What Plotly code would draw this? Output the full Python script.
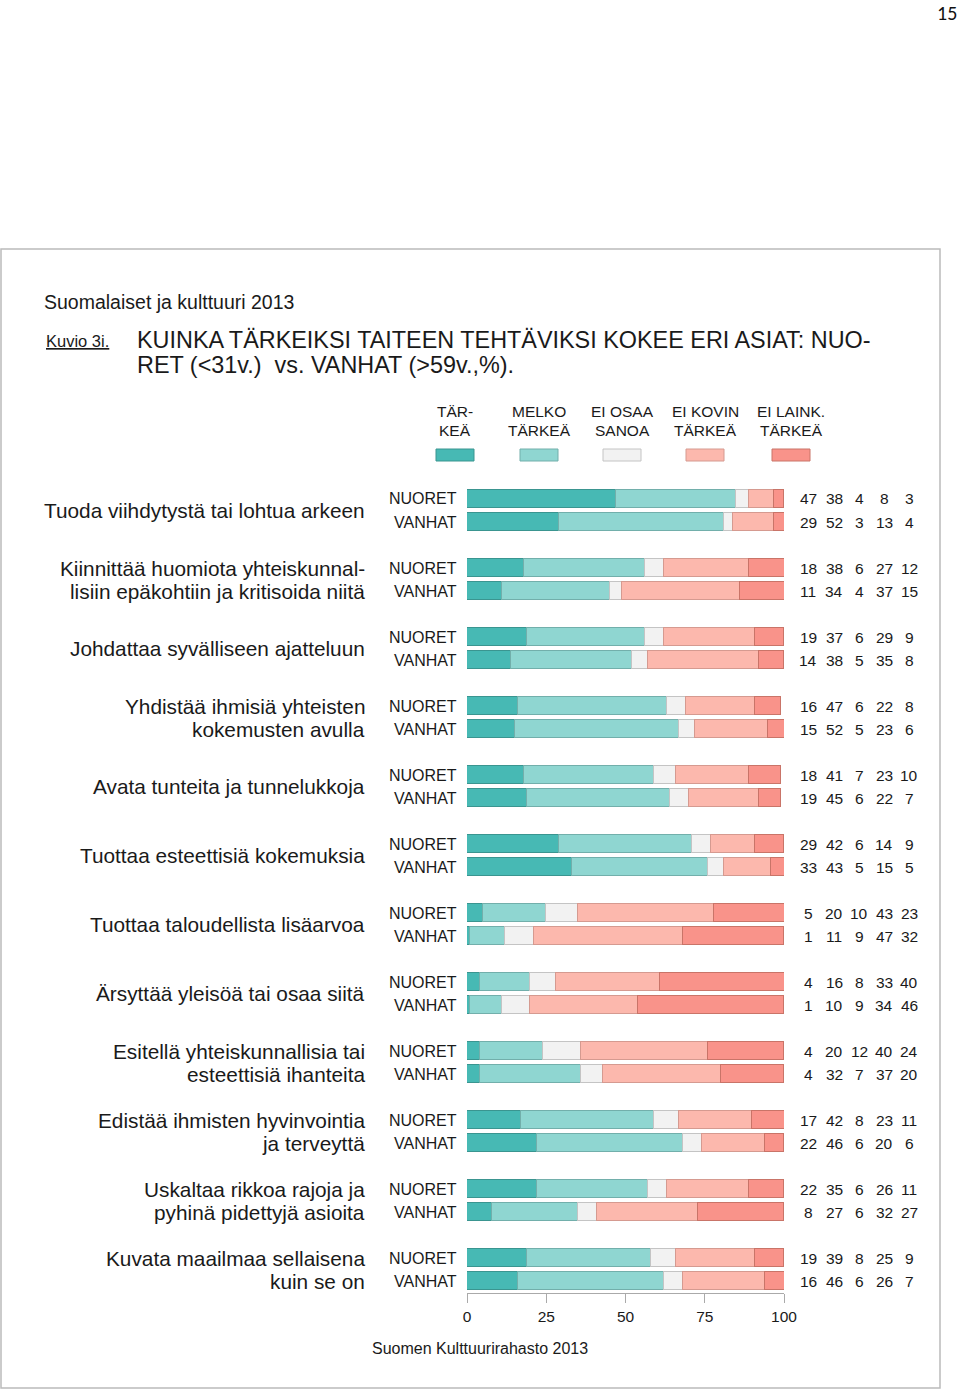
import plotly.graph_objects as go

W, H = 960, 1389

categories = [
    "Tuoda viihdytystä tai lohtua arkeen",
    "Kiinnittää huomiota yhteiskunnal-<br>lisiin epäkohtiin ja kritisoida niitä",
    "Johdattaa syvälliseen ajatteluun",
    "Yhdistää ihmisiä yhteisten<br>kokemusten avulla",
    "Avata tunteita ja tunnelukkoja",
    "Tuottaa esteettisiä kokemuksia",
    "Tuottaa taloudellista lisäarvoa",
    "Ärsyttää yleisöä tai osaa siitä",
    "Esitellä yhteiskunnallisia tai<br>esteettisiä ihanteita",
    "Edistää ihmisten hyvinvointia<br>ja terveyttä",
    "Uskaltaa rikkoa rajoja ja<br>pyhinä pidettyjä asioita",
    "Kuvata maailmaa sellaisena<br>kuin se on",
]
groups = ["NUORET", "VANHAT"]
series = ["TÄR-<br>KEÄ", "MELKO<br>TÄRKEÄ", "EI OSAA<br>SANOA", "EI KOVIN<br>TÄRKEÄ", "EI LAINK.<br>TÄRKEÄ"]

nuoret = [
    [47, 38, 4, 8, 3],
    [18, 38, 6, 27, 12],
    [19, 37, 6, 29, 9],
    [16, 47, 6, 22, 8],
    [18, 41, 7, 23, 10],
    [29, 42, 6, 14, 9],
    [5, 20, 10, 43, 23],
    [4, 16, 8, 33, 40],
    [4, 20, 12, 40, 24],
    [17, 42, 8, 23, 11],
    [22, 35, 6, 26, 11],
    [19, 39, 8, 25, 9],
]
vanhat = [
    [29, 52, 3, 13, 4],
    [11, 34, 4, 37, 15],
    [14, 38, 5, 35, 8],
    [15, 52, 5, 23, 6],
    [19, 45, 6, 22, 7],
    [33, 43, 5, 15, 5],
    [1, 11, 9, 47, 32],
    [1, 10, 9, 34, 46],
    [4, 32, 7, 37, 20],
    [22, 46, 6, 20, 6],
    [8, 27, 6, 32, 27],
    [16, 46, 6, 26, 7],
]
x_ticks = [0, 25, 50, 75, 100]

colors = ["#47B9B4", "#8FD6D1", "#F2F2F2", "#FCB8AD", "#F9938A"]
outlines = ["#3A9590", "#72AFAB", "#C4C4C4", "#D59A90", "#C97468"]

FONT = "Liberation Sans, Arial, sans-serif"

def py(p):
    return 1 - p / H

def px(p):
    return p / W

# y positions: group i, offset -1/6 (NUORET), +1/6 (VANHAT)
offsets = [-1 / 6, 1 / 6]
yvals = []
for i in range(len(categories)):
    for o in offsets:
        yvals.append(i + o)

fig = go.Figure()
for k, name in enumerate(series):
    xs = []
    for i in range(len(categories)):
        xs.append(nuoret[i][k])
        xs.append(vanhat[i][k])
    fig.add_trace(go.Bar(
        x=xs, y=yvals, orientation="h", width=0.265,
        marker=dict(color=colors[k], line=dict(color=outlines[k], width=1)),
        name=name.replace("<br>", " "), showlegend=False, hoverinfo="x",
    ))

# pixel mapping: pixel = 510.5 + 69*v
PX0, PXG = 510.5, 69.0
y_top_px, y_bot_px = 476, 1293
v_top = (y_top_px - PX0) / PXG
v_bot = (y_bot_px - PX0) / PXG

fig.update_layout(
    width=W, height=H, autosize=False, margin=dict(l=0, r=0, t=0, b=0, pad=0),
    paper_bgcolor="white", plot_bgcolor="white",
    barmode="stack", bargap=0,
    font=dict(family=FONT, color="#1a1a1a"),
    xaxis=dict(domain=[px(467), px(784)], range=[0, 100], tickvals=x_ticks,
               ticks="outside", ticklen=9, tickcolor="#AAAAAA", showline=True,
               linecolor="#AAAAAA", linewidth=1, showgrid=False, zeroline=False,
               automargin=False,
               tickfont=dict(size=15.5, family=FONT, color="#1a1a1a"), fixedrange=True),
    yaxis=dict(domain=[py(y_bot_px), py(y_top_px)], range=[v_bot, v_top],
               showticklabels=False, showgrid=False, zeroline=False, ticks="",
               showline=False, fixedrange=True, automargin=False),
)

ann = []
shapes = []

# frame
shapes.append(dict(type="rect", xref="paper", yref="paper",
                   x0=px(1), x1=px(940), y0=py(1388), y1=py(249),
                   line=dict(color="#BBBBBB", width=1.5)))

# page number
ann.append(dict(text="15", x=px(959), y=py(13), xref="paper", yref="paper",
                xanchor="right", yanchor="middle", showarrow=False,
                font=dict(size=20, family="Carlito, Liberation Sans, sans-serif", color="#111")))
# header texts
ann.append(dict(text="Suomalaiset ja kulttuuri 2013", x=px(42), y=py(302), xref="paper", yref="paper",
                xanchor="left", yanchor="middle", showarrow=False, font=dict(size=19.5)))
ann.append(dict(text="<u>Kuvio 3i.</u>", x=px(44), y=py(341), xref="paper", yref="paper",
                xanchor="left", yanchor="middle", showarrow=False, font=dict(size=16.5)))
ann.append(dict(text="KUINKA TÄRKEIKSI TAITEEN TEHTÄVIKSI KOKEE ERI ASIAT: NUO-", x=px(135), y=py(340),
                xref="paper", yref="paper", xanchor="left", yanchor="middle", showarrow=False,
                font=dict(size=23.4)))
ann.append(dict(text="RET (<31v.)  vs. VANHAT (>59v.,%).", x=px(135), y=py(365),
                xref="paper", yref="paper", xanchor="left", yanchor="middle", showarrow=False,
                font=dict(size=23.4)))

# legend (text lines drawn separately for tight line spacing)
leg_x = [455, 539, 622, 705, 791]
for k, name in enumerate(series):
    lines = name.split("<br>")
    for j, line in enumerate(lines):
        ann.append(dict(text=line, x=px(leg_x[k]), y=py(411 + 19 * j), xref="paper", yref="paper",
                        xanchor="center", yanchor="middle", showarrow=False,
                        font=dict(size=15.5)))
    shapes.append(dict(type="rect", xref="paper", yref="paper",
                       x0=px(leg_x[k] - 19), x1=px(leg_x[k] + 19), y0=py(461), y1=py(449),
                       fillcolor=colors[k], line=dict(color=outlines[k], width=1)))

# category labels, group labels, numbers
num_cols = [808, 834, 859, 884, 909]
LINE_GAP = 23.0 / PXG
for i, cat in enumerate(categories):
    lines = cat.split("<br>")
    n = len(lines)
    for j, line in enumerate(lines):
        yv = i + (j - (n - 1) / 2) * LINE_GAP
        ann.append(dict(text=line, x=px(367), y=yv, xref="paper", yref="y",
                        xanchor="right", yanchor="middle", align="right", showarrow=False,
                        font=dict(size=20.8)))
    for g, (gname, data) in enumerate(zip(groups, [nuoret, vanhat])):
        yv = i + offsets[g]
        ann.append(dict(text=gname, x=px(459), y=yv, xref="paper", yref="y",
                        xanchor="right", yanchor="middle", showarrow=False,
                        font=dict(size=16)))
        for k in range(5):
            ann.append(dict(text=str(data[i][k]), x=px(num_cols[k]), y=yv, xref="paper", yref="y",
                            xanchor="center", yanchor="middle", showarrow=False,
                            font=dict(size=15.5)))

ann.append(dict(text="Suomen Kulttuurirahasto 2013", x=px(480), y=py(1348), xref="paper", yref="paper",
                xanchor="center", yanchor="middle", showarrow=False, font=dict(size=16)))

fig.update_layout(annotations=ann, shapes=shapes)
fig.write_html("out.html",
               config={"responsive": False, "displayModeBar": False},
               post_script="document.body.style.margin='0px';document.body.style.overflow='hidden';")
